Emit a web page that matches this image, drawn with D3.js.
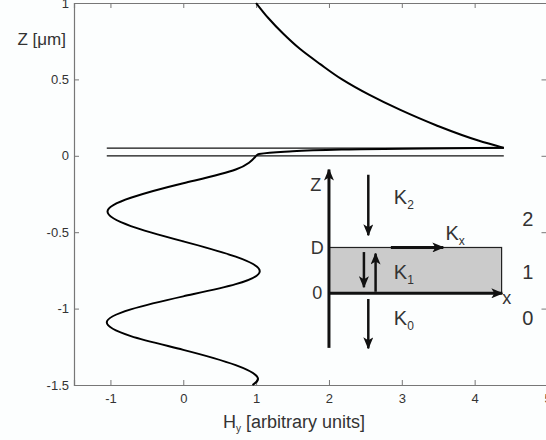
<!DOCTYPE html>
<html>
<head>
<meta charset="utf-8">
<script src="https://cdn.jsdelivr.net/npm/d3@7"></script>
<style>
  body { margin: 0; background: #fcfefe; }
  text { font-family: "Liberation Sans", Arial, sans-serif; fill: #333; }
</style>
</head>
<body>
<svg width="546" height="440"></svg>
<script>
// field profile (H in arb. units, z in um)
const lowerH = [1.0, 0.72, 0.0, -0.72, -1.04, -0.72, 0.0, 0.72, 1.05, 0.72, 0.0, -0.72, -1.05, -0.72, 0.0, 0.72, 1.02, 0.95];
const lowerZ = [0.0, -0.09, -0.18, -0.275, -0.365, -0.46, -0.56, -0.66, -0.755, -0.84, -0.92, -1.005, -1.09, -1.18, -1.27, -1.37, -1.45, -1.5];

const layerH = [1.0, 1.04, 1.5, 2.2, 3.3, 4.4];
const layerZ = [0.0, 0.012, 0.03, 0.042, 0.048, 0.052];

const upperH = [4.4, 4.05, 3.47, 2.98, 2.55, 2.18, 1.88, 1.6, 1.37, 1.17, 1.0];
const upperZ = [0.052, 0.1, 0.2, 0.3, 0.4, 0.5, 0.6, 0.7, 0.8, 0.9, 1.0];

const interfaceZ = [0, 0.05];
const interfaceH = [-1.05, 4.4];

const xTicks = [-1, 0, 1, 2, 3, 4, 5];
const yTicks = [-1.5, -1, -0.5, 0, 0.5, 1];

const svg = d3.select('svg');

const x = d3.scaleLinear().domain([-1.5, 5]).range([74, 547.5]);
const y = d3.scaleLinear().domain([-1.5, 1]).range([385, 3]);

const axisColor = '#777';
const plainNum = d => String(d);   // hyphen minus like the original

// axes box with inward ticks (matlab style)
const gx = svg.append('g').attr('transform', `translate(0, ${y(-1.5)})`)
  .call(d3.axisBottom(x).tickValues(xTicks).tickSize(-5).tickPadding(9).tickFormat(plainNum));
const gxTop = svg.append('g').attr('transform', `translate(0, ${y(1)})`)
  .call(d3.axisTop(x).tickValues(xTicks).tickSize(-5).tickFormat(''));
const gy = svg.append('g').attr('transform', `translate(${x(-1.5)}, 0)`)
  .call(d3.axisLeft(y).tickValues(yTicks).tickSize(-5).tickPadding(5).tickFormat(plainNum));
const gyRight = svg.append('g').attr('transform', `translate(${x(5)}, 0)`)
  .call(d3.axisRight(y).tickValues(yTicks).tickSize(-6).tickFormat(''));

[gx, gxTop, gy, gyRight].forEach(g => {
  g.select('.domain').attr('stroke', axisColor).attr('stroke-width', 1.2);
  g.selectAll('.tick line').attr('stroke', axisColor);
  g.selectAll('.tick text').attr('font-size', 13).attr('fill', '#333')
    .attr('font-family', '"Liberation Sans", Arial, sans-serif');
});

// axis labels
svg.append('text')
  .attr('x', 66).attr('y', 45)
  .attr('text-anchor', 'end')
  .attr('font-size', 17)
  .text('Z [μm]');

const xl = svg.append('text')
  .attr('x', 294).attr('y', 428)
  .attr('text-anchor', 'middle')
  .attr('font-size', 18);
xl.append('tspan').text('H');
xl.append('tspan').attr('font-size', 10).attr('dy', 4).text('y');
xl.append('tspan').attr('dy', -4).text(' [arbitrary units]');

// interfaces of the thin layer
svg.selectAll('.iface').data(interfaceZ).enter().append('line')
  .attr('class', 'iface')
  .attr('x1', x(interfaceH[0])).attr('x2', x(interfaceH[1]))
  .attr('y1', d => y(d)).attr('y2', d => y(d))
  .attr('stroke', '#111').attr('stroke-width', 1.3);

// field curve
const lower = d3.zip(lowerH, lowerZ);
const layer = d3.zip(layerH, layerZ);
const upper = d3.zip(upperH, upperZ);

svg.append('path')
  .attr('d', d3.line().x(d => x(d[0])).y(d => y(d[1])).curve(d3.curveNatural)(lower))
  .attr('fill', 'none').attr('stroke', '#000').attr('stroke-width', 2);
svg.append('path')
  .attr('d', d3.line().x(d => x(d[0])).y(d => y(d[1])).curve(d3.curveMonotoneX)(layer))
  .attr('fill', 'none').attr('stroke', '#000').attr('stroke-width', 2);
svg.append('path')
  .attr('d', d3.line().x(d => x(d[0])).y(d => y(d[1])).curve(d3.curveMonotoneY)(upper))
  .attr('fill', 'none').attr('stroke', '#000').attr('stroke-width', 2);

// ---- inset sketch of the layered structure ----
const defs = svg.append('defs');
defs.append('marker')
  .attr('id', 'arr')
  .attr('markerUnits', 'userSpaceOnUse')
  .attr('viewBox', '0 0 12 10')
  .attr('refX', 11).attr('refY', 5)
  .attr('markerWidth', 12).attr('markerHeight', 10)
  .attr('orient', 'auto')
  .append('path').attr('d', 'M0,0 L12,5 L0,10 L3,5 Z').attr('fill', '#111');

const slabH = [2.0, 4.37];
const slabZ = [-0.9, -0.6];

svg.append('rect')
  .attr('x', x(slabH[0])).attr('y', y(slabZ[1]))
  .attr('width', x(slabH[1]) - x(slabH[0]))
  .attr('height', y(slabZ[0]) - y(slabZ[1]))
  .attr('fill', '#cbcbcb').attr('stroke', '#222').attr('stroke-width', 1.2);

const arrows = [
  { h0: 2.0, z0: -1.257, h1: 2.0, z1: -0.09, w: 3 },     // Z axis
  { h0: 2.0, z0: -0.9, h1: 4.38, z1: -0.9, w: 3 },       // x axis
  { h0: 2.85, z0: -0.6, h1: 3.57, z1: -0.6, w: 3 },      // Kx
  { h0: 2.54, z0: -0.124, h1: 2.54, z1: -0.52, w: 2.5 }, // K2
  { h0: 2.48, z0: -0.63, h1: 2.48, z1: -0.86, w: 2.5 },  // K1 down
  { h0: 2.64, z0: -0.89, h1: 2.64, z1: -0.64, w: 2.5 },  // K1 up
  { h0: 2.54, z0: -0.937, h1: 2.54, z1: -1.26, w: 2.5 }  // K0
];
svg.selectAll('.arr').data(arrows).enter().append('line')
  .attr('class', 'arr')
  .attr('x1', d => x(d.h0)).attr('y1', d => y(d.z0))
  .attr('x2', d => x(d.h1)).attr('y2', d => y(d.z1))
  .attr('stroke', '#111').attr('stroke-width', d => d.w)
  .attr('marker-end', 'url(#arr)');

// inset labels
const plain = [
  { t: 'Z', h: 1.82, z: -0.19, s: 18 },
  { t: 'D', h: 1.84, z: -0.6, s: 18 },
  { t: '0', h: 1.84, z: -0.895, s: 18 },
  { t: 'x', h: 4.44, z: -0.93, s: 18 },
  { t: '2', h: 4.73, z: -0.41, s: 20 },
  { t: '1', h: 4.73, z: -0.76, s: 20 },
  { t: '0', h: 4.73, z: -1.06, s: 20 }
];
svg.selectAll('.lab').data(plain).enter().append('text')
  .attr('class', 'lab')
  .attr('x', d => x(d.h)).attr('y', d => y(d.z))
  .attr('dy', '0.36em')
  .attr('text-anchor', 'middle')
  .attr('font-size', d => d.s)
  .text(d => d.t);

const kLabels = [
  { sub: '2', h: 2.89, z: -0.267 },
  { sub: '1', h: 2.89, z: -0.758 },
  { sub: '0', h: 2.89, z: -1.06 },
  { sub: 'x', h: 3.6, z: -0.504 }
];
kLabels.forEach(d => {
  const t = svg.append('text')
    .attr('x', x(d.h)).attr('y', y(d.z))
    .attr('dy', '0.36em')
    .attr('font-size', 20);
  t.append('tspan').text('K');
  t.append('tspan').attr('font-size', 12).attr('dy', 5).text(d.sub);
});
</script>
</body>
</html>
